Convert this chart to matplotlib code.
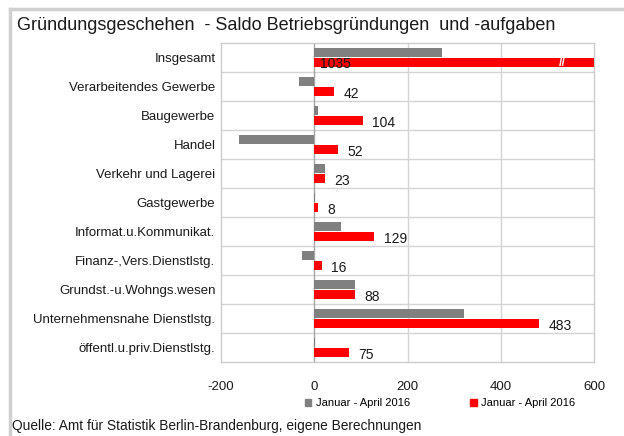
import numpy as np
import matplotlib.pyplot as plt
from matplotlib.patches import Patch

plt.rcParams['font.family'] = ['Liberation Sans', 'DejaVu Sans']
plt.rcParams['axes.unicode_minus'] = False

categories = ['Insgesamt', 'Verarbeitendes Gewerbe', 'Baugewerbe', 'Handel',
              'Verkehr und Lagerei', 'Gastgewerbe', 'Informat.u.Kommunikat.',
              'Finanz-,Vers.Dienstlstg.', 'Grundst.-u.Wohngs.wesen',
              'Unternehmensnahe Dienstlstg.', 'öffentl.u.priv.Dienstlstg.']
saldo_grau = [273, -32, 7, -161, 22, 2, 58, -26, 87, 322, 2]
saldo_rot = [1035, 42, 104, 52, 23, 8, 129, 16, 88, 483, 75]
legend_labels = ['Januar - April 2016', 'Januar - April 2016']

GRAU = '#808080'
ROT = '#ff0000'

fig = plt.figure(figsize=(6.24, 4.36), dpi=100)
ax = fig.add_axes([221 / 624, 1 - 362 / 436, 373 / 624, 319 / 436])

y = np.arange(len(categories))
h = 0.31
ax.barh(y - 0.16, saldo_grau, height=h, color=GRAU, zorder=3)
ax.barh(y + 0.18, saldo_rot, height=h, color=ROT, zorder=3)

ax.set_xlim(-200, 600)
ax.set_ylim(len(categories) - 0.5, -0.5)
ax.set_xticks([-200, 0, 200, 400, 600])
ax.set_yticks(y)
ax.set_yticklabels(categories)
ax.tick_params(axis='both', length=0, labelsize=9.5, colors='#1a1a1a')
ax.tick_params(axis='x', pad=14)
ax.tick_params(axis='y', pad=4)

# grid: category separators and vertical lines at the ticks
for yy in np.arange(0.5, len(categories) - 0.5):
    ax.axhline(yy, color='#d4d4d4', lw=1, zorder=1)
for xx in [200, 400]:
    ax.axvline(xx, color='#d4d4d4', lw=1, zorder=1)
ax.axvline(0, color='#a6a6a6', lw=1, zorder=2)
for s in ax.spines.values():
    s.set_color('#cccccc')
    s.set_linewidth(1)

# value labels on the red bars; the total runs off the scale
for i, v in enumerate(saldo_rot):
    if v > 600:
        ax.text(12, i + 0.24, f'{v}', ha='left', va='center', fontsize=10,
                color='#1a1a1a', zorder=5)
        ax.text(533, i + 0.18, '//', ha='center', va='center', fontsize=9,
                fontweight='bold', color='white', zorder=5)
    else:
        ax.text(v + 20, i + 0.26, f'{v}', ha='left', va='center', fontsize=10,
                color='#1a1a1a', zorder=5)

fig.text(17 / 624, 1 - 25 / 436, 'Gründungsgeschehen  - Saldo Betriebsgründungen  und -aufgaben',
         ha='left', va='center', fontsize=13, color='#1a1a1a')

handles = [Patch(color=GRAU), Patch(color=ROT)]
fig.legend(handles, legend_labels, loc='center', bbox_to_anchor=(440 / 624, 1 - 403 / 436),
           ncol=2, frameon=False, fontsize=8, handlelength=0.6, handleheight=0.6,
           handletextpad=0.4, columnspacing=5.4)

fig.text(12 / 624, 1 - 426 / 436, 'Quelle: Amt für Statistik Berlin-Brandenburg, eigene Berechnungen',
         ha='left', va='center', fontsize=9.9, color='#1a1a1a')

# outer frame (top and left edge)
fig.add_artist(plt.Line2D([10 / 624, 10 / 624], [0, 1 - 9 / 436], color='#d0d0d0', lw=2.5,
                          transform=fig.transFigure))
fig.add_artist(plt.Line2D([10 / 624, 1], [1 - 9 / 436, 1 - 9 / 436], color='#d0d0d0', lw=2.5,
                          transform=fig.transFigure))

fig.savefig('out.png', dpi=100)
